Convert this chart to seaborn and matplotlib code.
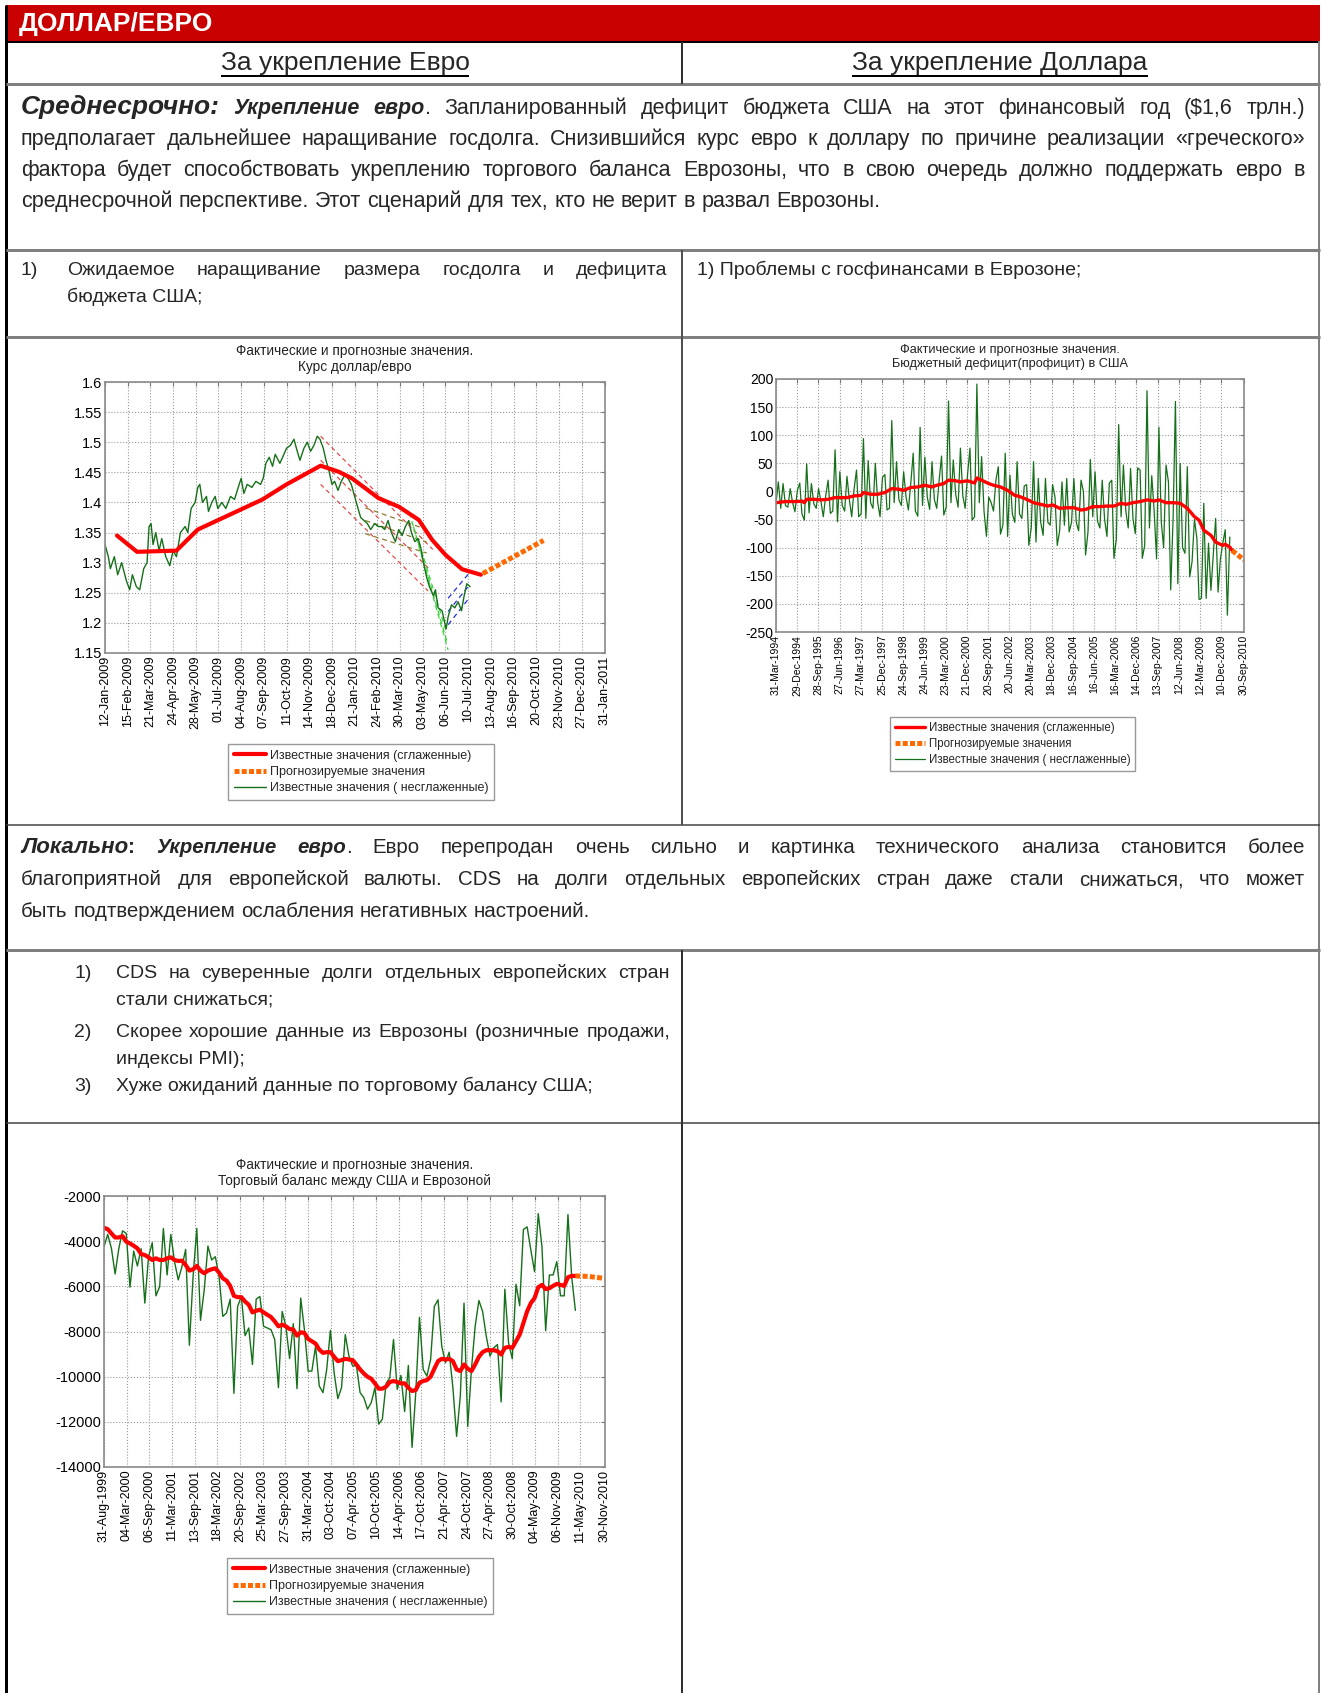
import numpy as np
import pandas as pd
import matplotlib
matplotlib.use('Agg')
import matplotlib.pyplot as plt
from matplotlib.lines import Line2D
from matplotlib.patches import Rectangle
import seaborn as sns

# ======================= DATA =======================
# ---- Chart 1: USD/EUR rate ----
c1_start = '2009-01-12'
c1_xticks = ['12-Jan-2009', '15-Feb-2009', '21-Mar-2009', '24-Apr-2009', '28-May-2009',
             '01-Jul-2009', '04-Aug-2009', '07-Sep-2009', '11-Oct-2009', '14-Nov-2009',
             '18-Dec-2009', '21-Jan-2010', '24-Feb-2010', '30-Mar-2010', '03-May-2010',
             '06-Jun-2010', '10-Jul-2010', '13-Aug-2010', '16-Sep-2010', '20-Oct-2010',
             '23-Nov-2010', '27-Dec-2010', '31-Jan-2011']
c1_yticks = ['1.15', '1.2', '1.25', '1.3', '1.35', '1.4', '1.45', '1.5', '1.55', '1.6']
c1_raw_day = [0, 5, 8, 14, 19, 25, 32, 37, 41, 47, 52, 58, 63, 66, 69, 72, 76, 81, 85, 91,
              97, 102, 107, 113, 120, 124, 129, 135, 139, 142, 146, 152, 155, 160, 165, 169, 175, 181, 188, 194,
              201, 204, 208, 213, 220, 226, 233, 237, 241, 246, 251, 255, 262, 266, 272, 278, 283, 288, 292, 298,
              303, 308, 313, 318, 322, 327, 331, 335, 340, 344, 349, 354, 359, 364, 369, 374, 379, 383, 388, 393,
              398, 404, 409, 414, 419, 424, 429, 435, 440, 445, 450, 455, 459, 464, 469, 473, 477, 482, 486, 492,
              495, 499, 505, 508, 511, 514, 519, 524, 529, 534, 538, 542, 547]
c1_raw_val = [1.33, 1.31, 1.29, 1.31, 1.28, 1.30, 1.27, 1.255, 1.28, 1.26, 1.255, 1.29, 1.30, 1.36, 1.365, 1.33, 1.35, 1.32, 1.34, 1.31,
              1.295, 1.32, 1.31, 1.35, 1.36, 1.35, 1.39, 1.40, 1.425, 1.43, 1.40, 1.41, 1.385, 1.40, 1.41, 1.39, 1.40, 1.39, 1.41, 1.405,
              1.43, 1.44, 1.415, 1.43, 1.425, 1.435, 1.43, 1.44, 1.465, 1.475, 1.46, 1.48, 1.465, 1.475, 1.49, 1.495, 1.505, 1.485, 1.47, 1.49,
              1.50, 1.485, 1.495, 1.51, 1.505, 1.49, 1.47, 1.455, 1.43, 1.435, 1.42, 1.435, 1.445, 1.44, 1.43, 1.41, 1.39, 1.375, 1.37, 1.365,
              1.355, 1.365, 1.36, 1.36, 1.355, 1.37, 1.35, 1.335, 1.355, 1.345, 1.36, 1.37, 1.35, 1.335, 1.34, 1.325, 1.30, 1.275, 1.26, 1.245,
              1.255, 1.225, 1.22, 1.205, 1.19, 1.21, 1.23, 1.225, 1.235, 1.22, 1.245, 1.265, 1.26]
c1_smooth_day = [18, 48, 107, 139, 236, 272, 323, 350, 370, 410, 440, 470, 490, 510, 535, 563]
c1_smooth_val = [1.345, 1.318, 1.32, 1.355, 1.405, 1.43, 1.461, 1.451, 1.44, 1.407, 1.393, 1.371, 1.338, 1.313, 1.289, 1.28]
c1_fc_day = [566, 657]
c1_fc_val = [1.282, 1.337]
# trend channels: [day0, val0, day1, val1]
c1_chan_red = [[323, 1.510, 491, 1.322], [323, 1.470, 488, 1.287], [323, 1.430, 484, 1.253]]
c1_chan_olive = [[390, 1.391, 482, 1.355], [390, 1.370, 482, 1.334], [390, 1.348, 482, 1.316]]
c1_chan_green = [[456, 1.383, 514, 1.155], [462, 1.360, 512, 1.170], [470, 1.335, 510, 1.190]]
c1_chan_blue = [[514, 1.241, 545, 1.282], [514, 1.219, 546, 1.263], [514, 1.197, 546, 1.242]]

# ---- Chart 2: US budget deficit (monthly from Mar-1994) ----
c2_start = '1994-03-01'
c2_xticks = ['31-Mar-1994', '29-Dec-1994', '28-Sep-1995', '27-Jun-1996', '27-Mar-1997', '25-Dec-1997',
             '24-Sep-1998', '24-Jun-1999', '23-Mar-2000', '21-Dec-2000', '20-Sep-2001', '20-Jun-2002',
             '20-Mar-2003', '18-Dec-2003', '16-Sep-2004', '16-Jun-2005', '16-Mar-2006', '14-Dec-2006',
             '13-Sep-2007', '12-Jun-2008', '12-Mar-2009', '10-Dec-2009', '30-Sep-2010']
c2_yticks = ['-250', '-200', '-150', '-100', '-50', '0', '50', '100', '150', '200']
c2_raw = [-21, 17, -30, 14, -25, -28, 5, -20, -36, 2,
          15, -40, -51, 49, -38, 14, -22, -30, 5, -18, -45, -8,
          20, -39, -35, 74, -54, 35, -25, -35, 27, -15, -45, 5,
          38, -45, -40, 94, -48, 55, -20, -30, 50, -20, -45, 25,
          30, -33, -30, 126, -20, 53, -15, -25, 35, -10, -33, 15,
          68, -35, -44, 114, -25, 61, -10, -32, 53, -15, -30, 20,
          63, -42, -28, 161, -20, 56, -5, -28, 77, -8, -30, 30,
          77, -51, -45, 191, -20, 62, -35, -80, -10, -20, -35, 20,
          44, -76, -60, 68, -80, 29, -40, -55, 53, -40, -48, 10,
          12, -96, -65, 53, -90, 23, -55, -78, 23, -55, -60, 12,
          -10, -96, -70, 17, -60, 23, -72, -55, 23, -55, -70, 20,
          0, -113, -72, 57, -45, 35, -53, -65, 20, -50, -80, 15,
          20, -119, -85, 119, -45, 47, -35, -65, 41, -48, -75, 42,
          38, -119, -96, 179, -65, 28, -35, -120, 114, -55, -100, 47,
          17, -175, -48, 160, -164, 50, -100, -110, 44, -152, -125, -50,
          -83, -192, -190, -21, -190, -92, -176, -110, -48, -179, -120, -92,
          -68, -220, -81]
c2_smooth_m = [0, 4, 7, 9, 11, 12, 13, 16, 19, 22, 25, 28, 30, 33, 36, 37, 40, 43, 46, 49,
               52, 54, 57, 60, 63, 66, 68, 71, 73, 76, 78, 81, 84, 85, 87, 90, 92, 95, 98, 101,
               103, 106, 109, 112, 115, 117, 120, 123, 126, 129, 131, 134, 137, 140, 143, 146, 148, 151, 154, 157,
               160, 162, 165, 168, 171, 174, 177, 179, 181, 184, 186, 189, 190, 192, 193]
c2_smooth_val = [-20, -18, -18, -18, -17, -20, -14, -14, -15, -14, -11, -11, -11, -8, -7, -2, -5, -5, -2, 5,
                 4, 2, 7, 8, 11, 8, 11, 14, 20, 19, 17, 19, 15, 24, 20, 14, 11, 8, 2, -7,
                 -9, -14, -20, -23, -26, -24, -30, -29, -29, -33, -32, -27, -27, -26, -26, -21, -23, -20, -18, -15,
                 -17, -15, -20, -20, -21, -30, -45, -51, -69, -78, -90, -96, -94, -99, -105]
c2_fc_m = [193, 196, 198]
c2_fc_val = [-105, -115, -122]

# ---- Chart 3: US - Eurozone trade balance (monthly) ----
c3_first, c3_last = '1999-08-31', '2010-04-01'
c3_xticks = ['31-Aug-1999', '04-Mar-2000', '06-Sep-2000', '11-Mar-2001', '13-Sep-2001', '18-Mar-2002',
             '20-Sep-2002', '25-Mar-2003', '27-Sep-2003', '31-Mar-2004', '03-Oct-2004', '07-Apr-2005',
             '10-Oct-2005', '14-Apr-2006', '17-Oct-2006', '21-Apr-2007', '24-Oct-2007', '27-Apr-2008',
             '30-Oct-2008', '04-May-2009', '06-Nov-2009', '11-May-2010', '30-Nov-2010']
c3_yticks = ['-14000', '-12000', '-10000', '-8000', '-6000', '-4000', '-2000']
c3_raw = [-4247, -3703, -4320, -5451, -4320, -3542, -3660, -6038, -4438, -5100,
          -4335, -6743, -4687, -4070, -6420, -6010, -3439, -5495, -3703, -4907,
          -5715, -5128, -4364, -8608, -5569, -3439, -7507, -6156, -4217, -4834,
          -4687, -5569, -7330, -7183, -6567, -10737, -6890, -6449, -8182, -7844,
          -9460, -6567, -6449, -7771, -7844, -7918, -8358, -10488, -7110, -7771,
          -9195, -7653, -10532, -6522, -7918, -9753, -9753, -8652, -10414, -10708,
          -9680, -7947, -9826, -10973, -10488, -8138, -9093, -9533, -9504, -10708,
          -10928, -11442, -11149, -10488, -12103, -11882, -10297, -10047, -8358, -10561,
          -9944, -11545, -9504, -13130, -10708, -7374, -9680, -9974, -9240, -6890,
          -6596, -8652, -9386, -8916, -10488, -12646, -10855, -6743, -12206, -9680,
          -7771, -6626, -7110, -8211, -9093, -8725, -8578, -11119, -6126, -8505,
          -9210, -5906, -6860, -3483, -3366, -4393, -5348, -2778, -4247, -7962,
          -5495, -5495, -4907, -6420, -6420, -2822, -5569, -7066]
c3_smooth = [-3410, -3469, -3660, -3836, -3836, -3777, -4026, -4100, -4203, -4320,
             -4570, -4614, -4717, -4834, -4760, -4834, -4834, -4760, -4717, -4834,
             -4878, -4863, -5054, -5304, -5245, -5098, -5304, -5421, -5304, -5245,
             -5201, -5392, -5642, -5745, -5980, -6420, -6479, -6479, -6670, -6816,
             -7154, -7081, -7036, -7154, -7257, -7360, -7551, -7771, -7698, -7771,
             -7888, -7918, -8182, -8035, -8065, -8329, -8432, -8535, -8799, -8946,
             -8916, -8916, -9122, -9313, -9269, -9210, -9240, -9269, -9460, -9680,
             -9856, -10003, -10091, -10297, -10532, -10532, -10443, -10238, -10194, -10238,
             -10297, -10297, -10488, -10635, -10591, -10267, -10194, -10150, -10003, -9650,
             -9313, -9210, -9240, -9210, -9313, -9680, -9753, -9460, -9650, -9753,
             -9460, -9122, -8916, -8828, -8828, -8828, -8872, -9019, -8725, -8681,
             -8725, -8432, -8138, -7624, -7110, -6743, -6522, -6038, -5936, -6126,
             -6082, -5980, -5892, -5936, -5980, -5598, -5539, -5539]
c3_fc_dates = ['2010-04-01', '2010-07-15', '2010-11-30']
c3_fc_val = [-5539, -5560, -5650]

legend_labels = ['Известные значения (сглаженные)', 'Прогнозируемые значения',
                 'Известные значения ( несглаженные)']
title_top = 'Фактические и прогнозные значения.'
c1_title = 'Курс доллар/евро'
c2_title = 'Бюджетный дефицит(профицит) в США'
c3_title = 'Торговый баланс между США и Еврозоной'

# ======================= STYLE =======================
sns.set_theme(style='white')
FAM = ['Liberation Sans', 'DejaVu Sans']
plt.rcParams['font.family'] = FAM

RED = '#FF0000'
ORANGE = '#FF6A00'
GREEN = '#16701A'
DOT = (0, (1.0, 0.45))

W, H = 1322, 1693
fig = plt.figure(figsize=(W / 100, H / 100), dpi=100)
fig.patch.set_facecolor('white')
R = fig.canvas.get_renderer()


def X(x):
    return x / W


def Y(y):
    return 1 - y / H


def hline(x0, x1, y, color, px):
    fig.add_artist(Line2D([X(x0), X(x1)], [Y(y), Y(y)], transform=fig.transFigure,
                          color=color, lw=px * 0.72, solid_capstyle='butt'))


def vline(x, y0, y1, color, px):
    fig.add_artist(Line2D([X(x), X(x)], [Y(y0), Y(y1)], transform=fig.transFigure,
                          color=color, lw=px * 0.72, solid_capstyle='butt'))


def txt(x, y, s, ha='left', **kw):
    return fig.text(X(x), Y(y), s, ha=ha, va='baseline', **kw)


def twidth(s, props):
    t = fig.text(0, 0, s, **props)
    w = t.get_window_extent(renderer=R).width
    t.remove()
    return w


REG = dict(fontsize=14, family=FAM)
REG1 = dict(fontsize=15.5, family=FAM)
BI1 = dict(fontsize=15.5, weight='bold', style='italic', family=FAM)
BIG1 = dict(fontsize=19, weight='bold', style='italic', family=FAM)
REG2 = dict(fontsize=14.8, family=FAM)
BI2 = dict(fontsize=14.8, weight='bold', style='italic', family=FAM)
BIG2 = dict(fontsize=16, weight='bold', style='italic', family=FAM)
BOLD2 = dict(fontsize=14.8, weight='bold', family=FAM)
HEAD = dict(fontsize=19, family=FAM)


def line(runs, x0, y, x1=None, space_props=REG):
    words = []
    prev_space = True
    for text, props in runs:
        parts = text.split(' ')
        for i, p in enumerate(parts):
            if not p:
                continue
            if i == 0 and words and not prev_space:
                words[-1].append((p, props))
            else:
                words.append([(p, props)])
        prev_space = text.endswith(' ')
    widths = [[twidth(p, pr) for p, pr in w] for w in words]
    total = sum(sum(ws) for ws in widths)
    if x1 is not None and len(words) > 1:
        gap = (x1 - x0 - total) / (len(words) - 1)
    else:
        gap = twidth('a b', space_props) - twidth('ab', space_props)
    x = x0
    for w, ws in zip(words, widths):
        for (p, pr), wd in zip(w, ws):
            txt(x, y, p, **pr)
            x += wd
        x += gap


# ======================= TABLE FRAME =======================
fig.add_artist(Rectangle((X(6), Y(41)), X(1320) - X(6), (41 - 5) / H, transform=fig.transFigure,
                         facecolor='#C80000', edgecolor='none'))
txt(19, 31, 'ДОЛЛАР/ЕВРО', color='white', fontsize=19, weight='bold', family=FAM)
hline(6, 1320, 42, 'black', 2)
vline(6, 5, 1693, 'black', 3)
vline(1319, 41, 1693, '#808080', 2)
for yy in (84, 250, 337, 950):
    hline(6, 1320, yy, '#808080', 3)
for yy in (825, 1123):
    hline(6, 1320, yy, '#404040', 1.5)
vline(682, 42, 84, '#303030', 2)
vline(682, 250, 825, '#505050', 2)
vline(682, 950, 1693, '#303030', 2)

# headings
for cx, s in [(345, 'За укрепление Евро'), (1000, 'За укрепление Доллара')]:
    w = twidth(s, HEAD)
    txt(cx, 70, s, ha='center', **HEAD)
    hline(cx - w / 2, cx + w / 2, 76, 'black', 2)

# paragraph 1
line([('Среднесрочно:', BIG1), ('  Укрепление евро', BI1),
      ('. Запланированный дефицит бюджета США на этот финансовый год ($1,6 трлн.)', REG1)], 21, 114, 1305)
line([('предполагает дальнейшее наращивание госдолга. Снизившийся курс евро к доллару по причине реализации «греческого»', REG1)], 21, 145, 1305)
line([('фактора будет способствовать укреплению торгового баланса Еврозоны, что в свою очередь должно поддержать евро в', REG1)], 21, 176, 1305)
line([('среднесрочной перспективе. Этот сценарий для тех, кто не верит в развал Еврозоны.', REG1)], 21, 207, None, REG1)

# row 4
txt(21, 275, '1)', **REG)
line([('Ожидаемое наращивание размера госдолга  и дефицита', REG)], 67, 275, 667)
txt(67, 302, 'бюджета США;', **REG)
txt(697, 275, '1) Проблемы с госфинансами в Еврозоне;', **REG)

# paragraph 2
line([('Локально', BIG2), (':', BOLD2), (' Укрепление евро', BI2),
      ('. Евро перепродан очень сильно и картинка технического анализа становится более', REG2)], 21, 853, 1305)
line([('благоприятной для европейской валюты. CDS на долги отдельных европейских стран даже стали снижаться, что может', REG2)], 21, 885, 1305)
line([('быть подтверждением ослабления негативных настроений.', REG2)], 21, 917, None, REG2)

# row 7 list
txt(74, 978, '1)', **REG)
line([('CDS на суверенные долги отдельных европейских стран', REG)], 116, 978, 670)
txt(116, 1005, 'стали снижаться;', **REG)
txt(74, 1037, '2)', **REG)
line([('Скорее хорошие данные из Еврозоны (розничные продажи,', REG)], 116, 1037, 670)
txt(116, 1064, 'индексы PMI);', **REG)
txt(74, 1091, '3)', **REG)
txt(116, 1091, 'Хуже ожиданий данные по торговому балансу США;', **REG)


# ======================= CHARTS =======================
def add_axes(l, r, t, b):
    return fig.add_axes([X(l), Y(b), (r - l) / W, (b - t) / H])


def draw(ax, x, y, color, lw, ls=None):
    sns.lineplot(x=x, y=y, ax=ax, color=color, linewidth=lw, estimator=None,
                 sort=False, legend=False, errorbar=None)
    ln = ax.lines[-1]
    if ls is not None:
        ln.set_linestyle(ls)
        ln.set_dash_capstyle('butt')
    return ln


def style(ax, tick_labels, ylabels, xfs, yfs):
    td = pd.to_datetime(tick_labels, format='%d-%b-%Y')
    ax.set_xlim(td[0], td[-1])
    ax.set_xticks(td)
    ax.set_xticklabels(tick_labels, rotation=90, fontsize=xfs)
    yv = [float(v) for v in ylabels]
    ax.set_ylim(yv[0], yv[-1])
    ax.set_yticks(yv)
    ax.set_yticklabels(ylabels, fontsize=yfs)
    ax.set_axisbelow(True)
    ax.grid(True, linestyle=':', linewidth=0.8, color='#9A9A9A')
    for s in ax.spines.values():
        s.set_visible(True)
        s.set_color('#8A8A8A')
        s.set_linewidth(1.2)
    ax.tick_params(direction='in', length=3, width=0.8, top=True, right=True,
                   color='#777777', pad=2, labelcolor='black')
    ax.set_xlabel('')
    ax.set_ylabel('')


def title(ax_l, ax_r, y, sub, fs):
    fig.text(X((ax_l + ax_r) / 2), Y(y), title_top + '\n' + sub, ha='center', va='center',
             fontsize=fs, linespacing=1.2, family=FAM, color='#222222')


def legend(ax, handles, x, y, fs):
    leg = ax.legend(handles, legend_labels, loc='upper left', bbox_to_anchor=(X(x), Y(y)),
                    bbox_transform=fig.transFigure, frameon=True, fancybox=False,
                    edgecolor='#808080', fontsize=fs, handlelength=2.6, borderpad=0.45,
                    labelspacing=0.35, handletextpad=0.3, borderaxespad=0)
    leg.get_frame().set_linewidth(1.0)


# ---- chart 1 ----
ax1 = add_axes(105, 605, 382, 653)
t0 = pd.Timestamp(c1_start)
d = lambda days: [t0 + pd.Timedelta(days=v) for v in days]
for seg in c1_chan_red:
    draw(ax1, d([seg[0], seg[2]]), [seg[1], seg[3]], '#E23A3A', 0.8, (0, (4, 3)))
for seg in c1_chan_olive:
    draw(ax1, d([seg[0], seg[2]]), [seg[1], seg[3]], '#8A7F2A', 0.9, (0, (4, 3)))
for seg in c1_chan_green:
    draw(ax1, d([seg[0], seg[2]]), [seg[1], seg[3]], '#3BD23B', 0.9, (0, (4, 3)))
for seg in c1_chan_blue:
    draw(ax1, d([seg[0], seg[2]]), [seg[1], seg[3]], '#2231E0', 0.9, (0, (4, 3)))
g1 = draw(ax1, d(c1_raw_day), c1_raw_val, GREEN, 1.0)
r1 = draw(ax1, d(c1_smooth_day), c1_smooth_val, RED, 3.0)
o1 = draw(ax1, d(c1_fc_day), c1_fc_val, ORANGE, 3.6, DOT)
style(ax1, c1_xticks, c1_yticks, 9.0, 10.5)
title(105, 605, 359, c1_title, 9.8)
legend(ax1, [r1, o1, g1], 228, 744, 9)

# ---- chart 2 ----
ax2 = add_axes(776, 1244, 379, 632)
m0 = pd.Timestamp(c2_start)
mdates = lambda ms: [m0 + pd.DateOffset(months=int(m)) + pd.offsets.MonthEnd(0) for m in ms]
g2 = draw(ax2, mdates(range(len(c2_raw))), c2_raw, GREEN, 0.9)
r2 = draw(ax2, mdates(c2_smooth_m), c2_smooth_val, RED, 2.4)
o2 = draw(ax2, mdates(c2_fc_m), c2_fc_val, ORANGE, 3.6, DOT)
style(ax2, c2_xticks, c2_yticks, 7.5, 10)
title(776, 1244, 357, c2_title, 9.2)
legend(ax2, [r2, o2, g2], 890, 717, 8.3)

# ---- chart 3 ----
ax3 = add_axes(104, 605, 1196, 1467)
dates3 = pd.date_range(c3_first, c3_last, periods=len(c3_raw))
g3 = draw(ax3, dates3, c3_raw, GREEN, 1.0)
r3 = draw(ax3, dates3[:len(c3_smooth)], c3_smooth, RED, 3.0)
o3 = draw(ax3, pd.to_datetime(c3_fc_dates), c3_fc_val, ORANGE, 3.6, DOT)
style(ax3, c3_xticks, c3_yticks, 9.0, 10.5)
title(104, 605, 1173, c3_title, 9.8)
legend(ax3, [r3, o3, g3], 227, 1558, 9)

fig.savefig('out.png', dpi=100, facecolor='white')
